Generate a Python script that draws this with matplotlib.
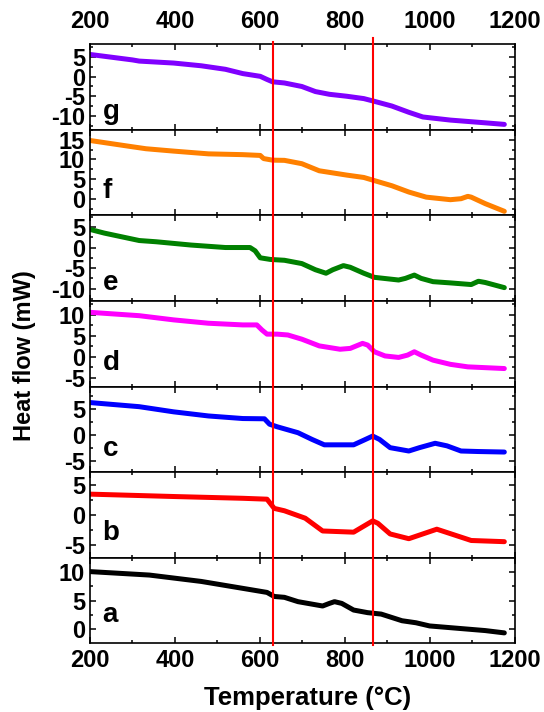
import matplotlib.pyplot as plt
from matplotlib.ticker import MultipleLocator

plt.rcParams['font.family'] = ['Liberation Sans', 'DejaVu Sans']
plt.rcParams['font.weight'] = 'bold'
plt.rcParams['axes.unicode_minus'] = False

# DSC traces, temperature in degC and heat flow in mW
t_g = [200, 300, 316, 397, 462, 519, 560, 601, 617, 630, 658, 699, 731, 764, 805, 845, 870, 911, 951, 984, 1008, 1049, 1131, 1176]
hf_g = [5.7, 4.3, 4.0, 3.5, 2.8, 1.9, 0.8, 0.1, -0.7, -1.3, -1.6, -2.5, -3.8, -4.5, -5.0, -5.6, -6.3, -7.5, -9.1, -10.3, -10.6, -11.1, -11.8, -12.2]

t_f = [200, 300, 332, 397, 479, 560, 601, 609, 630, 658, 699, 740, 805, 845, 870, 911, 951, 992, 1049, 1074, 1090, 1098, 1131, 1176]
hf_f = [14.8, 13.2, 12.7, 12.1, 11.4, 11.2, 11.0, 10.2, 9.8, 9.75, 8.9, 7.1, 6.0, 5.4, 4.6, 3.3, 1.7, 0.4, -0.25, 0.0, 0.6, 0.4, -1.25, -3.2]

t_e = [200, 234, 316, 356, 438, 519, 577, 589, 601, 625, 658, 699, 731, 756, 772, 797, 813, 845, 870, 927, 943, 964, 980, 1008, 1049, 1098, 1115, 1131, 1176]
hf_e = [4.4, 3.5, 1.7, 1.4, 0.6, 0.0, 0.0, -0.8, -2.5, -2.9, -3.1, -3.9, -5.4, -6.25, -5.4, -4.4, -4.8, -6.25, -7.25, -7.9, -7.5, -6.7, -7.5, -8.3, -8.6, -9.0, -8.2, -8.5, -9.75]

t_d = [200, 316, 397, 479, 560, 593, 605, 617, 641, 666, 699, 740, 789, 813, 842, 854, 870, 895, 927, 948, 964, 980, 1008, 1049, 1090, 1176]
hf_d = [10.6, 9.8, 8.8, 8.0, 7.6, 7.6, 6.4, 5.4, 5.4, 5.2, 4.2, 2.6, 1.8, 2.0, 3.2, 2.8, 1.2, 0.2, -0.15, 0.4, 1.2, 0.4, -0.8, -1.8, -2.4, -2.8]

t_c = [200, 316, 397, 479, 560, 611, 623, 641, 690, 723, 752, 821, 845, 866, 882, 907, 951, 976, 1013, 1041, 1074, 1115, 1176]
hf_c = [6.3, 5.5, 4.5, 3.7, 3.2, 3.15, 2.1, 1.6, 0.45, -0.85, -1.9, -1.9, -1.0, -0.2, -0.85, -2.45, -3.1, -2.45, -1.6, -2.1, -3.1, -3.2, -3.3]

t_b = [200, 397, 560, 617, 634, 658, 707, 748, 821, 866, 878, 907, 951, 1017, 1098, 1176]
hf_b = [3.5, 3.1, 2.8, 2.65, 1.1, 0.7, -0.55, -2.7, -2.9, -1.0, -1.4, -3.2, -4.0, -2.4, -4.3, -4.5]

t_a = [200, 340, 462, 560, 617, 634, 658, 690, 748, 764, 776, 793, 821, 854, 886, 935, 968, 1000, 1049, 1131, 1176]
hf_a = [10.0, 9.4, 8.3, 7.1, 6.4, 5.7, 5.55, 4.8, 4.05, 4.5, 4.8, 4.5, 3.35, 2.9, 2.65, 1.5, 1.15, 0.6, 0.3, -0.2, -0.6]

labels = ['g', 'f', 'e', 'd', 'c', 'b', 'a']
colors = ['#8000ff', '#ff8000', '#008000', '#ff00ff', '#0000ff', '#ff0000', '#000000']
temps = [t_g, t_f, t_e, t_d, t_c, t_b, t_a]
flows = [hf_g, hf_f, hf_e, hf_d, hf_c, hf_b, hf_a]
ylims = [(-13.6, 8.3), (-4.25, 17.5), (-13.0, 7.8), (-7.1, 13.3), (-7.2, 9.4), (-7.2, 7.2), (-2.4, 12.4)]
label_y = [0.21, 0.29, 0.21, 0.27, 0.27, 0.29, 0.33]
transitions = [630, 867]
line_top = [1.025, 1.07]

fig, axes = plt.subplots(7, 1, figsize=(5.44, 7.12), dpi=100, sharex=True)
fig.subplots_adjust(left=0.1654, right=0.9458, top=0.9378, bottom=0.0965, hspace=0)

for i, ax in enumerate(axes):
    ax.plot(temps[i], flows[i], color=colors[i], lw=3.6,
            solid_capstyle='round', solid_joinstyle='round')
    ax.set_xlim(200, 1200)
    ax.set_ylim(*ylims[i])
    ax.xaxis.set_major_locator(MultipleLocator(200))
    ax.xaxis.set_minor_locator(MultipleLocator(100))
    ax.yaxis.set_major_locator(MultipleLocator(5))
    ax.yaxis.set_minor_locator(MultipleLocator(2.5))
    ax.tick_params(which='both', direction='in', top=True, right=True, width=1.1,
                   labelsize=17, labelbottom=False)
    ax.tick_params(axis='y', pad=3.5)
    ax.tick_params(which='major', length=4.5)
    ax.tick_params(which='minor', length=2.5)
    for s in ax.spines.values():
        s.set_linewidth(1.2)
    ax.text(0.03, label_y[i], labels[i], transform=ax.transAxes, fontsize=20,
            fontweight='bold', ha='left', va='center')
    for t, top in zip(transitions, line_top):
        lo = -0.025 if i == len(axes) - 1 else 0
        hi = top if i == 0 else 1
        ax.axvline(t, ymin=lo, ymax=hi, color='red', lw=1.5, clip_on=False, zorder=5)

axes[0].tick_params(axis='x', labeltop=True, pad=8)
axes[-1].tick_params(axis='x', labelbottom=True, pad=4)
fig.text(0.566, 0.0197, 'Temperature (°C)', fontsize=18.5, fontweight='bold',
         ha='center', va='center')
fig.text(0.045, 0.5, 'Heat flow (mW)', rotation=90, fontsize=17, fontweight='bold',
         ha='center', va='center')

fig.savefig('out.png', dpi=100)
